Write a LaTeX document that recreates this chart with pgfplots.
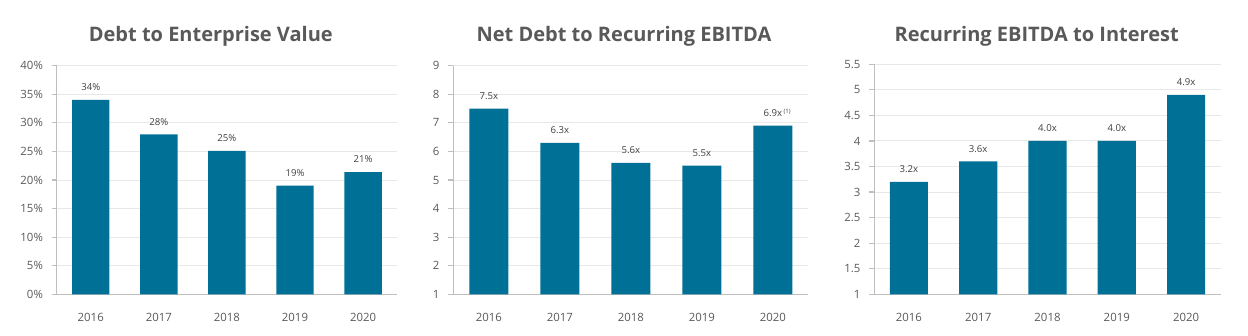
\documentclass[border=0pt]{standalone}
\usepackage{pgfplots}
\pgfplotsset{compat=1.18}
\usepackage{fontspec}
\setmainfont{Open Sans}
\definecolor{barc}{RGB}{0,112,150}
\definecolor{txt}{RGB}{89,89,89}
\definecolor{lbl}{RGB}{64,64,64}
\definecolor{grd}{RGB}{232,232,232}
\definecolor{axl}{RGB}{191,191,191}
\pgfplotsset{
 panel/.style={
  scale only axis, anchor=south west,
  ybar, bar width=0.55,
  xmin=-0.5, xmax=4.5,
  xtick={0,...,4}, xticklabels={2016,2017,2018,2019,2020},
  axis x line*=bottom, axis y line*=left,
  axis line style={axl, line width=0.6pt, -},
  ymajorgrids, grid style={grd, line width=0.5pt},
  major x tick style={draw=none},
  major y tick style={axl, line width=0.6pt},
  tick align=outside, major tick length=2.5pt,
  tick label style={font=\fontsize{5.7}{6}\selectfont, text=txt},
  xticklabel style={inner sep=0pt, anchor=north, yshift=-7pt},
  yticklabel style={inner sep=0pt, anchor=east, xshift=-4.2pt},
  /pgf/number format/assume math mode=true,
  nodes near coords, point meta=explicit symbolic,
  every node near coord/.append style={font=\fontsize{4.8}{5}\selectfont, text=lbl, anchor=base, inner sep=0pt, yshift=4.6pt},
  enlarge y limits=false,
 }
}
\begin{document}
\begin{tikzpicture}
\useasboundingbox (0,0) rectangle (624pt,168pt);
\begin{axis}[panel, at={(28.35pt,20.85pt)}, width=170.2pt, height=114.3pt,
  ymin=0, ymax=40, ytick={0,5,...,40},
  yticklabel={\pgfmathprintnumber{\tick}\%}]
\addplot[fill=barc, draw=none] coordinates {(0,34) [34\%] (1,28) [28\%] (2,25.1) [25\%] (3,19) [19\%] (4,21.4) [21\%]};
\end{axis}
\begin{axis}[panel, at={(226.65pt,20.85pt)}, width=177.5pt, height=114.3pt,
  ymin=1, ymax=9, ytick={1,...,9}]
\addplot[fill=barc, draw=none] coordinates {(0,7.5) [7.5x] (1,6.3) [6.3x] (2,5.6) [5.6x] (3,5.5) [5.5x] (4,6.9) [{6.9x\rlap{\,\raisebox{1.6pt}{\fontsize{3}{3}\selectfont(1)}}}]};
\end{axis}
\begin{axis}[panel, at={(437.15pt,20.85pt)}, width=173.2pt, height=115pt,
  ymin=1, ymax=5.5, ytick={1,1.5,...,5.5}]
\addplot[fill=barc, draw=none] coordinates {(0,3.2) [3.2x] (1,3.6) [3.6x] (2,4.0) [4.0x] (3,4.0) [4.0x] (4,4.9) [4.9x]};
\end{axis}
\begin{scope}[every node/.style={font=\fontsize{10}{12}\selectfont\bfseries, text=txt, anchor=base, inner sep=0pt}]
\node at (105.4pt,147.15pt) {Debt to Enterprise Value};
\node at (312pt,147.15pt) {Net Debt to Recurring EBITDA};
\node at (518.35pt,147.15pt) {Recurring EBITDA to Interest};
\end{scope}
\end{tikzpicture}
\end{document}
